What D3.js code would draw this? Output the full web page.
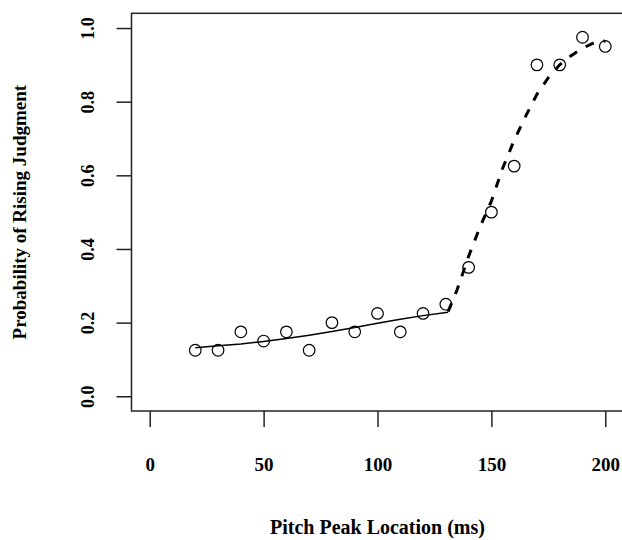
<!DOCTYPE html>
<html>
<head>
<meta charset="utf-8">
<script src="https://cdn.jsdelivr.net/npm/d3@7"></script>
<style>
  body { margin: 0; background: #fff; }
  svg { display: block; }
  text { font-family: "Liberation Serif", "Times New Roman", serif; font-weight: bold; fill: #000; }
</style>
</head>
<body>
<svg id="chart" width="622" height="540"></svg>
<script>
// observed proportions
const peakMs = [20, 30, 40, 50, 60, 70, 80, 90, 100, 110, 120, 130, 140, 150, 160, 170, 180, 190, 200];
const risingProb = [0.125, 0.125, 0.175, 0.15, 0.175, 0.125, 0.2, 0.175, 0.225, 0.175, 0.225, 0.25, 0.35, 0.5, 0.625, 0.9, 0.9, 0.975, 0.95];

// fitted curve, early segment (solid)
const fitEarlyX = [20, 30, 40, 50, 60, 70, 80, 90, 100, 110, 120, 131];
const fitEarlyY = [0.132, 0.137, 0.142, 0.149, 0.157, 0.166, 0.176, 0.187, 0.198, 0.209, 0.219, 0.228];

// fitted curve, late segment (dashed)
const fitLateX = [131, 135, 140, 145, 150, 155, 160, 165, 170, 175, 180, 185, 190, 195, 200];
const fitLateY = [0.23, 0.29, 0.38, 0.46, 0.53, 0.62, 0.695, 0.76, 0.82, 0.865, 0.9, 0.925, 0.945, 0.96, 0.965];

const xTicks = [0, 50, 100, 150, 200];
const yTicks = [0, 0.2, 0.4, 0.6, 0.8, 1.0];

const svg = d3.select('#chart');
const box = { left: 131.5, right: 623.5, top: 13.3, bottom: 411 };

const x = d3.scaleLinear().domain([-8, 208]).range([box.left, box.right]);
const y = d3.scaleLinear().domain([-0.04, 1.04]).range([box.bottom, box.top]);

// y axis
const yAxis = svg.append('g')
    .attr('transform', `translate(${box.left},0)`)
    .call(d3.axisLeft(y).tickValues(yTicks).tickFormat(d3.format('.1f')).tickSize(15).tickSizeOuter(0));
yAxis.select('.domain').remove();
yAxis.selectAll('line').attr('stroke', '#222').attr('stroke-width', 1.5);
yAxis.selectAll('text')
    .attr('x', null).attr('dy', null)
    .attr('transform', 'translate(-38,0) rotate(-90)')
    .attr('text-anchor', 'middle')
    .style('font-size', '18px')
    .style('font-family', '"Liberation Serif", serif')
    .style('font-weight', 'bold')
    .attr('fill', '#000');

// x axis
const xAxis = svg.append('g')
    .attr('transform', `translate(0,${box.bottom})`)
    .call(d3.axisBottom(x).tickValues(xTicks).tickFormat(d3.format('d')).tickSize(16).tickSizeOuter(0));
xAxis.select('.domain').remove();
xAxis.selectAll('line').attr('stroke', '#222').attr('stroke-width', 1.5);
xAxis.selectAll('text')
    .attr('y', 60).attr('dy', null)
    .style('font-size', '19px')
    .style('font-family', '"Liberation Serif", serif')
    .style('font-weight', 'bold')
    .attr('fill', '#000');

// plot box
svg.append('rect')
    .attr('x', box.left).attr('y', box.top)
    .attr('width', box.right - box.left).attr('height', box.bottom - box.top)
    .attr('fill', 'none').attr('stroke', '#222').attr('stroke-width', 1.5);

// fitted lines
const line = d3.line().x(d => x(d[0])).y(d => y(d[1]));

svg.append('path')
    .datum(d3.zip(fitEarlyX, fitEarlyY))
    .attr('d', line)
    .attr('fill', 'none').attr('stroke', '#000').attr('stroke-width', 1.5);

svg.append('path')
    .datum(d3.zip(fitLateX, fitLateY))
    .attr('d', line)
    .attr('fill', 'none').attr('stroke', '#000').attr('stroke-width', 3)
    .attr('stroke-dasharray', '9,10');

// observed points
svg.append('g').selectAll('circle')
    .data(d3.zip(peakMs, risingProb))
    .enter()
    .append('circle')
    .attr('cx', d => x(d[0]))
    .attr('cy', d => y(d[1]))
    .attr('r', 5.8)
    .attr('fill', 'none')
    .attr('stroke', '#000')
    .attr('stroke-width', 1.2);

// axis titles
svg.append('text')
    .attr('x', (box.left + box.right) / 2)
    .attr('y', 534)
    .attr('text-anchor', 'middle')
    .style('font-size', '20px')
    .text('Pitch Peak Location (ms)');

svg.append('text')
    .attr('transform', `translate(26,${(box.top + box.bottom) / 2}) rotate(-90)`)
    .attr('text-anchor', 'middle')
    .style('font-size', '19px')
    .text('Probability of Rising Judgment');
</script>
</body>
</html>
